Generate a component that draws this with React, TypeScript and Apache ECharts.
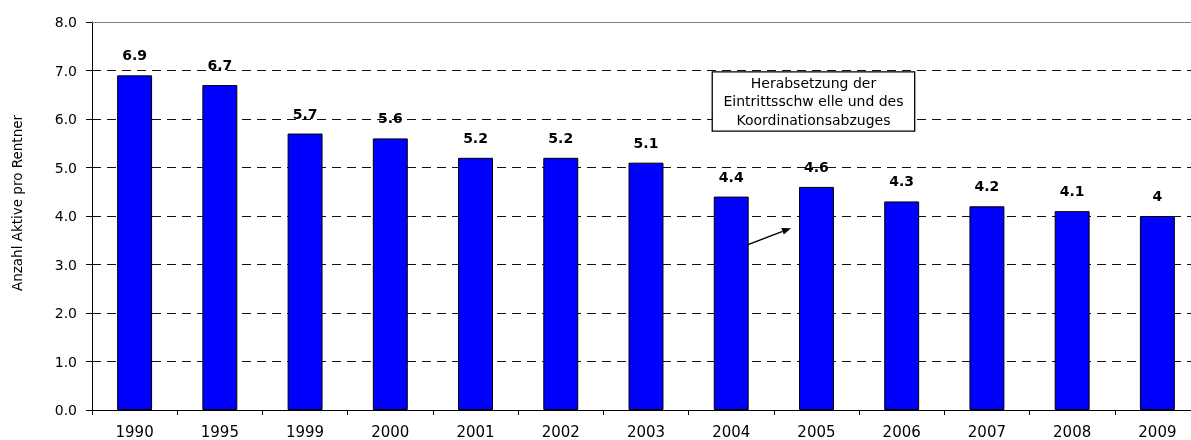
import React, { useEffect, useRef } from "react";
import * as echarts from "echarts";

const categories = ["1990", "1995", "1999", "2000", "2001", "2002", "2003", "2004", "2005", "2006", "2007", "2008", "2009"];
const values = [6.9, 6.7, 5.7, 5.6, 5.2, 5.2, 5.1, 4.4, 4.6, 4.3, 4.2, 4.1, 4];
const yTicks = { min: 0, max: 8, interval: 1 };
const axisName = "Anzahl Aktive pro Rentner";
const noteLines = ["Herabsetzung der", "Eintrittsschw elle und des", "Koordinationsabzuges"];

const FONT = "'DejaVu Sans', 'Liberation Sans', Arial, sans-serif";

export default function App() {
  const ref = useRef<HTMLDivElement>(null);
  useEffect(() => {
    if (!ref.current) return;
    const chart = echarts.init(ref.current, undefined, { renderer: "svg" });
    const option: any = {
      animation: false,
      textStyle: { fontFamily: FONT },
      grid: { left: 92, top: 22, bottom: 30, right: 0 },
      xAxis: [
        {
          type: "category",
          data: categories,
          axisLine: { lineStyle: { color: "#000", width: 1 } },
          axisTick: { show: true, length: 5, lineStyle: { color: "#000" } },
          axisLabel: { color: "#000", fontSize: 15, fontFamily: FONT, margin: 14 },
        },
        {
          type: "category",
          position: "top",
          data: categories,
          axisLine: { show: true, lineStyle: { color: "#808080", width: 1 } },
          axisTick: { show: false },
          axisLabel: { show: false },
        },
      ],
      yAxis: {
        type: "value",
        min: yTicks.min,
        max: yTicks.max,
        interval: yTicks.interval,
        axisLine: { show: true, lineStyle: { color: "#000", width: 1 } },
        axisTick: { show: true, length: 6, lineStyle: { color: "#000" } },
        axisLabel: { color: "#000", fontSize: 14, fontFamily: FONT, formatter: (v: number) => v.toFixed(1), margin: 15 },
        splitLine: { show: true, lineStyle: { color: "#111", type: [9, 6], width: 1 } },
      },
      series: [
        {
          type: "bar",
          data: values,
          barWidth: "41%",
          itemStyle: { color: "#0000FF", borderColor: "#000", borderWidth: 1 },
          label: {
            show: true,
            position: "top",
            distance: 13,
            color: "#000",
            fontWeight: "bold",
            fontSize: 14,
            fontFamily: FONT,
          },
        },
      ],
    };
    chart.setOption(option);

    const toPx = (cat: string, v: number) => chart.convertToPixel({ xAxisIndex: 0, yAxisIndex: 0 }, [cat, v]) as number[];
    const p2004 = toPx("2004", 0);
    const p2005 = toPx("2005", 0);
    const catW = p2005[0] - p2004[0];
    const barHalf = catW * 0.41 / 2;
    const start = [p2004[0] + barHalf - 2, toPx("2004", 3.4)[1]];
    const end = [p2005[0] - barHalf - 8, toPx("2005", 3.75)[1]];
    const ang = Math.atan2(end[1] - start[1], end[0] - start[0]);
    const hl = 9, hw = 3.5;
    const back = [end[0] - hl * Math.cos(ang), end[1] - hl * Math.sin(ang)];
    const perp = [-Math.sin(ang), Math.cos(ang)];

    const boxLeft = toPx("2004", 0)[0] - 19;
    const boxRight = toPx("2006", 0)[0] + 13;
    const boxTop = toPx("2004", 6.97)[1];
    const boxBottom = toPx("2004", 5.75)[1];
    const cx = (boxLeft + boxRight) / 2;
    const lineH = 18.5;
    const midY = (boxTop + boxBottom) / 2 - 0.5;

    const nameY = toPx("1990", 4)[1] - 13;

    chart.setOption({
      graphic: [
        {
          type: "text",
          x: 17,
          y: nameY,
          rotation: Math.PI / 2,
          style: { text: axisName, fill: "#000", font: `13.5px ${FONT}`, align: "center", verticalAlign: "middle" },
        },
        {
          type: "rect",
          shape: { x: boxLeft, y: boxTop, width: boxRight - boxLeft, height: boxBottom - boxTop },
          style: { fill: "#fff", stroke: "#000", lineWidth: 1.3 },
          z: 10,
        },
        ...noteLines.map((t, i) => ({
          type: "text",
          x: cx,
          y: midY + (i - 1) * lineH,
          style: { text: t, fill: "#000", font: `14px ${FONT}`, align: "center", verticalAlign: "middle" },
          z: 11,
        })),
        {
          type: "line",
          shape: { x1: start[0], y1: start[1], x2: back[0], y2: back[1] },
          style: { stroke: "#000", lineWidth: 1.5 },
          z: 10,
        },
        {
          type: "polygon",
          shape: {
            points: [
              end,
              [back[0] + perp[0] * hw, back[1] + perp[1] * hw],
              [back[0] - perp[0] * hw, back[1] - perp[1] * hw],
            ],
          },
          style: { fill: "#000" },
          z: 10,
        },
      ],
    });
    return () => chart.dispose();
  }, []);
  return (
    <div style={{ position: "fixed", left: 0, top: 0, width: 1191, height: 440, overflow: "hidden" }}>
      <div ref={ref} style={{ width: 1200, height: 440 }} />
    </div>
  );
}
